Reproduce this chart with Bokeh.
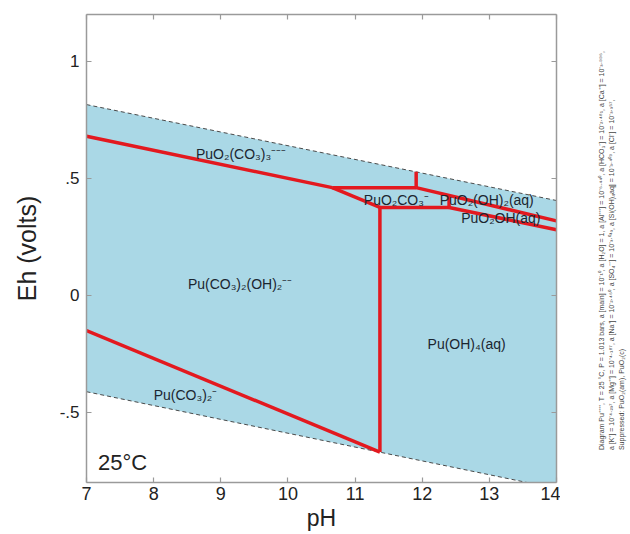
import math
from bokeh.plotting import figure
from bokeh.layouts import row
from bokeh.models import LinearAxis, FixedTicker, Label, Range1d
from bokeh.core.properties import value
from bokeh.embed import file_html
from bokeh.resources import INLINE

# ---- data ----
water_ph = [7, 14]
water_upper_eh = [0.815, 0.405]
water_lower_eh = [-0.412, -0.826]

field_ph = [7, 14, 14, 7]
field_eh = [0.815, 0.405, -0.826, -0.412]

boundary_ph = [
    [7, 10.66], [10.66, 11.37], [10.66, 11.91], [11.91, 11.91], [11.91, 14],
    [11.37, 12.40], [12.40, 12.40], [12.40, 14], [11.37, 11.37], [7, 11.37],
]
boundary_eh = [
    [0.680, 0.460], [0.460, 0.376], [0.460, 0.460], [0.460, 0.528], [0.460, 0.318],
    [0.375, 0.375], [0.375, 0.428], [0.375, 0.280], [0.376, -0.670], [-0.151, -0.670],
]

species = ["PuO₂(CO₃)₃⁻⁻⁻", "PuO₂CO₃⁻", "PuO₂(OH)₂(aq)", "PuO₂OH(aq)",
           "Pu(CO₃)₂(OH)₂⁻⁻", "Pu(CO₃)₂⁻", "Pu(OH)₄(aq)"]
species_ph = [8.63, 11.13, 12.26, 12.58, 8.51, 8.00, 12.08]
species_eh = [0.604, 0.408, 0.408, 0.331, 0.049, -0.428, -0.210]

x_ticks = [7, 8, 9, 10, 11, 12, 13, 14]
y_ticks = [-0.5, 0, 0.5, 1]
y_tick_labels = ["-.5", "0", ".5", "1"]

side_lines = [
    "Diagram Pu⁺⁺⁺⁺, T = 25 °C, P = 1.013 bars, a [main] = 10⁻¹⁰, a [H₂O] = 1, a [Al⁺⁺⁺] = 10⁻⁶·⁴⁴⁰, a [HCO₃⁻] = 10⁻²·⁴⁸¹, a [Ca⁺⁺] = 10⁻³·⁹⁹⁶,",
    "a [K⁺] = 10⁻⁴·²³⁷, a [Mg⁺⁺] = 10⁻⁴·¹⁸⁷, a [Na⁺] = 10⁻²·⁴⁶⁰, a [SO₄⁻⁻] = 10⁻³·⁰⁴³, a [Si(OH)₄aq] = 10⁻³·⁴⁰⁹, a [Cl⁻] = 10⁻³·³⁵⁷,",
    "Suppressed: PuO₂(am), PuO₂(c)",
]

FONT = "Liberation Sans"
AXIS_COL = "#9a9a9a"
TXT = "#222222"

p = figure(width=560, height=534, output_backend="svg", toolbar_location=None,
           x_range=Range1d(7, 14), y_range=Range1d(-0.8, 1.2),
           min_border_left=86, min_border_right=4, min_border_top=14, min_border_bottom=52,
           x_axis_label="pH", y_axis_label="Eh (volts)")
p.outline_line_color = None
p.xgrid.visible = False
p.ygrid.visible = False
p.background_fill_color = "white"
p.border_fill_color = "white"

p.patch(field_ph, field_eh, fill_color="#aad8e6", line_color=None)
p.line(water_ph, water_upper_eh, line_color="#4a4a4a", line_width=1, line_dash="4 3")
p.line(water_ph, water_lower_eh, line_color="#4a4a4a", line_width=1, line_dash="4 3")
p.multi_line(boundary_ph, boundary_eh, line_color="#e3191f", line_width=3.5, line_join="round")

p.text(species_ph, species_eh, text=species, text_font=value(FONT), text_font_size="14px",
       text_color="#1b2630", text_align="left", text_baseline="middle")

p.add_layout(Label(x=7.17, y=-0.714, text="25°C", text_font=FONT, text_font_size="22px",
                   text_color=TXT, text_baseline="middle"))


def style(ax, ticks, show_labels):
    ax.ticker = FixedTicker(ticks=ticks)
    ax.axis_line_color = AXIS_COL
    ax.axis_line_width = 1.5
    ax.major_tick_line_color = AXIS_COL
    ax.major_tick_line_width = 1.2
    ax.major_tick_in = 5
    ax.major_tick_out = 0
    ax.minor_tick_line_color = None
    ax.major_label_text_font = FONT
    ax.major_label_text_color = TXT
    if not show_labels:
        ax.major_label_overrides = {t: "" for t in ticks}
        ax.major_label_text_font_size = "1px"
        ax.major_label_standoff = 0


xa = p.xaxis[0]
ya = p.yaxis[0]
style(xa, x_ticks, True)
style(ya, y_ticks, True)
xa.major_label_text_font_size = "18px"
xa.major_label_standoff = 4
xa.axis_label_text_font = FONT
xa.axis_label_text_font_size = "23px"
xa.axis_label_text_font_style = "normal"
xa.axis_label_text_color = TXT
xa.axis_label_standoff = 2
ya.major_label_text_font_size = "17px"
ya.major_label_standoff = 7
ya.major_label_overrides = {t: l for t, l in zip(y_ticks, y_tick_labels)}
ya.axis_label_text_font = FONT
ya.axis_label_text_font_size = "25px"
ya.axis_label_text_font_style = "normal"
ya.axis_label_text_color = TXT
ya.axis_label_standoff = 16

top = LinearAxis()
right = LinearAxis()
p.add_layout(top, "above")
p.add_layout(right, "right")
style(top, x_ticks, False)
style(right, y_ticks, False)

# narrow side panel with the rotated diagram note
note = figure(width=70, height=534, output_backend="svg", toolbar_location=None,
              x_range=Range1d(0, 70), y_range=Range1d(0, 534),
              min_border=0)
note.axis.visible = False
note.grid.visible = False
note.outline_line_color = None
note.text([41, 51, 61], [37, 37, 37], text=side_lines, angle=math.pi / 2,
          text_font=value(FONT), text_font_size="7px", text_color="#444444",
          text_align="left", text_baseline="middle")

layout = row(p, note, spacing=0)
open("out.html", "w").write(file_html(layout, INLINE))
